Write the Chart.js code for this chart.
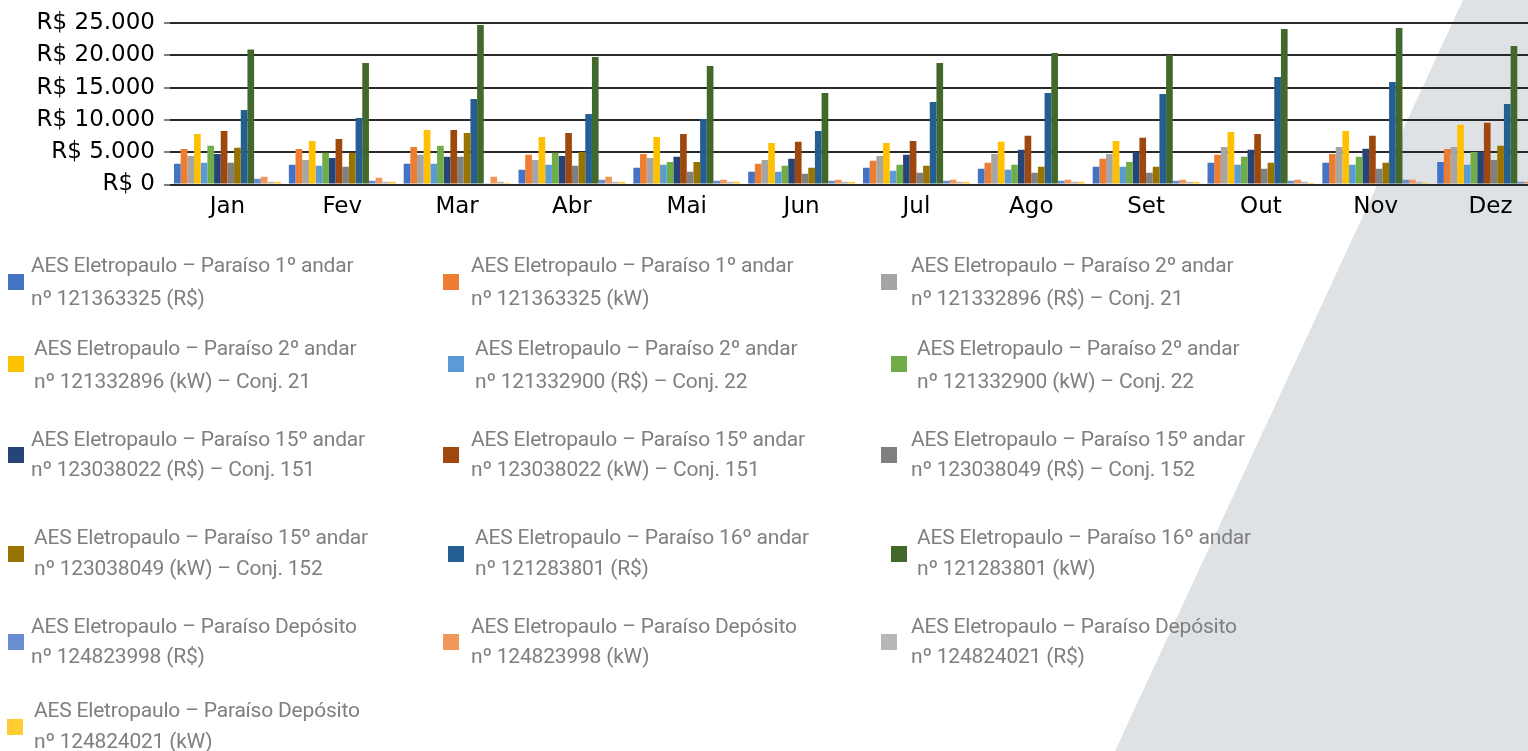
<!DOCTYPE html>
<html><head><meta charset="utf-8">
<script src="https://cdn.jsdelivr.net/npm/chart.js@4"></script>
<style>
html,body{margin:0;padding:0;width:1528px;height:751px;overflow:hidden;background:#fff;}
#bg{position:absolute;left:0;top:0;width:1528px;height:751px;background:#dfe2e5;clip-path:polygon(1463px 0,1528px 0,1528px 751px,1115px 751px);}
#wrap{position:absolute;left:0;top:0;width:1560px;height:225px;}
#legend{position:absolute;left:0;top:0;width:1528px;height:751px;font-family:Roboto,sans-serif;font-size:21px;letter-spacing:-0.2px;color:#7f7f7f;}
.sq{position:absolute;width:16px;height:16px;}
.ln{position:absolute;white-space:nowrap;line-height:22px;}
</style></head>
<body>
<div id="bg"></div>
<div id="wrap"><canvas id="c"></canvas></div>
<div id="legend"></div>
<script>
const months = ['Jan','Fev','Mar','Abr','Mai','Jun','Jul','Ago','Set','Out','Nov','Dez'];
const yTicks = [0,5000,10000,15000,20000,25000];

const seriesNames = [
  ['AES Eletropaulo – Paraíso 1º andar','nº 121363325 (R$)'],
  ['AES Eletropaulo – Paraíso 1º andar','nº 121363325 (kW)'],
  ['AES Eletropaulo – Paraíso 2º andar','nº 121332896 (R$) – Conj. 21'],
  ['AES Eletropaulo – Paraíso 2º andar','nº 121332896 (kW) – Conj. 21'],
  ['AES Eletropaulo – Paraíso 2º andar','nº 121332900 (R$) – Conj. 22'],
  ['AES Eletropaulo – Paraíso 2º andar','nº 121332900 (kW) – Conj. 22'],
  ['AES Eletropaulo – Paraíso 15º andar','nº 123038022 (R$) – Conj. 151'],
  ['AES Eletropaulo – Paraíso 15º andar','nº 123038022 (kW) – Conj. 151'],
  ['AES Eletropaulo – Paraíso 15º andar','nº 123038049 (R$) – Conj. 152'],
  ['AES Eletropaulo – Paraíso 15º andar','nº 123038049 (kW) – Conj. 152'],
  ['AES Eletropaulo – Paraíso 16º andar','nº 121283801 (R$)'],
  ['AES Eletropaulo – Paraíso 16º andar','nº 121283801 (kW)'],
  ['AES Eletropaulo – Paraíso Depósito','nº 124823998 (R$)'],
  ['AES Eletropaulo – Paraíso Depósito','nº 124823998 (kW)'],
  ['AES Eletropaulo – Paraíso Depósito','nº 124824021 (R$)'],
  ['AES Eletropaulo – Paraíso Depósito','nº 124824021 (kW)']
];

const s1  = [3200,3050,3200,2270,2580,1960,2580,2420,2730,3350,3350,3500];
const s2  = [5500,5500,5820,4590,4740,3200,3660,3350,3970,4590,4740,5500];
const s3  = [4430,3810,4590,3810,4120,3810,4430,4740,4740,5820,5820,5820];
const s4  = [7830,6750,8450,7370,7370,6440,6440,6600,6750,8140,8300,9230];
const s5  = [3350,2890,3200,3040,3040,1960,2110,2270,2730,3040,3040,3040];
const s6  = [5980,4900,5980,4900,3500,2890,3040,3040,3500,4280,4280,5050];
const s7  = [4740,4120,4280,4430,4280,3970,4590,5360,5050,5360,5520,5050];
const s8  = [8300,7060,8450,7990,7830,6600,6750,7530,7220,7830,7530,9540];
const s9  = [3350,2730,4280,2890,1960,1650,1800,1800,1800,2420,2420,3810];
const s10 = [5670,4900,7990,5050,3500,2580,2890,2730,2730,3350,3350,5980];
const s11 = [11550,10310,13250,10930,10150,8300,12780,14170,14020,16650,15880,12470];
const s12 = [20880,18810,24690,19740,18350,14170,18810,20360,20050,24070,24230,21440];
const s13 = [880,570,100,720,570,570,570,570,570,570,720,410];
const s14 = [1190,1030,1190,1190,720,720,720,720,720,720,720,410];
const s15 = [410,410,410,410,410,410,410,410,410,410,410,410];
const s16 = [410,410,260,410,410,410,410,410,410,260,260,260];
const seriesValues = [s1,s2,s3,s4,s5,s6,s7,s8,s9,s10,s11,s12,s13,s14,s15,s16];

const colors = ['#4472C4','#ED7D31','#A5A5A5','#FFC000','#5B9BD5','#70AD47','#264478','#9E480E',
                '#808080','#997300','#255E91','#43682B','#698ED0','#F1975A','#B7B7B7','#FFCD33'];

// legend layout: [squareLeft, squareTop, textLeft, baseline1, baseline2]
const legendLayout = [
  [8,274,31,272,305],[443,274,471,272,305],[881,274,911,272,305],
  [8,356,34,355,388],[448,356,475,355,388],[891,356,917,355,388],
  [8,447,31,446,476],[443,447,471,446,476],[881,447,911,446,476],
  [8,546,34,544,575],[448,546,475,544,575],[891,546,917,544,575],
  [8,634,31,633,663],[443,634,471,633,663],[881,634,911,633,663],
  [7,719,34,717,748]
];

function fmt(v){ return String(v).replace(/\B(?=(\d{3})+(?!\d))/g,'.'); }

const chart = new Chart(document.getElementById('c'), {
  type:'bar',
  data:{
    labels: months,
    datasets: seriesNames.map((n,i)=>({
      label: n.join('\n'),
      data: seriesValues[i],
      backgroundColor: colors[i],
      borderWidth: 0,
      categoryPercentage: 0.93,
      barPercentage: 1.0
    }))
  },
  options:{
    responsive:true, maintainAspectRatio:false, animation:false,
    layout:{padding:{top:23,right:12,left:0,bottom:0}},
    plugins:{legend:{display:false}, tooltip:{enabled:false}},
    scales:{
      x:{
        grid:{display:false}, border:{display:false},
        ticks:{color:'#000',font:{family:'DejaVu Sans',size:23},padding:1,maxRotation:0,autoSkip:false},
        afterFit(s){ s.height = 40.5; }
      },
      y:{
        min:0, max:25000,
        afterBuildTicks(s){ s.ticks = yTicks.map(v=>({value:v})); },
        ticks:{color:'#000',font:{family:'DejaVu Sans',size:23},padding:9,callback:v=>'R$ '+fmt(v)},
        grid:{color:'#2a2a2a',lineWidth:2,tickLength:6,tickColor:'#555',tickWidth:1.5},
        border:{display:false},
        afterFit(s){ s.width = 170; }
      }
    }
  }
});

// HTML legend built from the chart's own legend items
const leg = document.getElementById('legend');
const items = chart.options.plugins.legend.labels.generateLabels(chart);
items.forEach((it,i)=>{
  const L = legendLayout[i];
  const sq = document.createElement('div');
  sq.className='sq'; sq.style.left=L[0]+'px'; sq.style.top=L[1]+'px'; sq.style.background=it.fillStyle;
  leg.appendChild(sq);
  const lines = seriesNames[i];
  [L[3],L[4]].forEach((b,k)=>{
    const d=document.createElement('div');
    d.className='ln'; d.style.left=L[2]+'px'; d.style.top=(b-18)+'px';
    d.textContent=lines[k];
    leg.appendChild(d);
  });
});
</script>
</body></html>
